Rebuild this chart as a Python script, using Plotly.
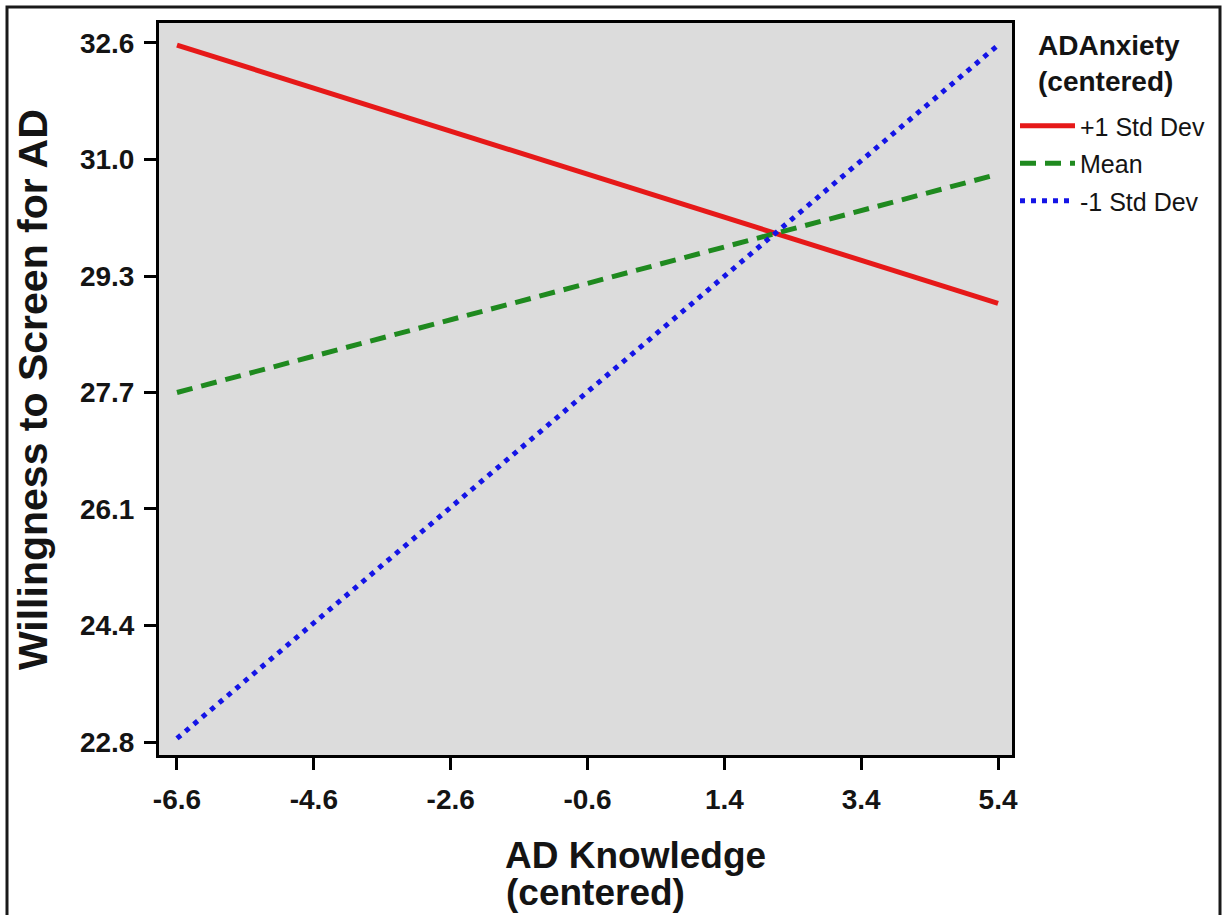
import plotly.graph_objects as go

# ---- data ----
ad_knowledge = [-6.6, 5.4]
plus_1sd = [32.57, 28.95]
mean_line = [27.70, 30.76]
minus_1sd = [22.85, 32.57]

series_names = ["+1 Std Dev", "Mean", "-1 Std Dev"]

x_tick_vals = [-6.6, -4.6, -2.6, -0.6, 1.4, 3.4, 5.4]
x_tick_text = ["-6.6", "-4.6", "-2.6", "-0.6", "1.4", "3.4", "5.4"]
y_tick_vals = [22.8, 24.433, 26.067, 27.7, 29.333, 30.967, 32.6]
y_tick_text = ["22.8", "24.4", "26.1", "27.7", "29.3", "31.0", "32.6"]

W, H = 1225, 915
L, R, T, B = 159, 1012, 23, 755
pw, ph = R - L, B - T

def px_x(p):
    return (p - L) / pw

def px_y(p):
    return 1 - (p - T) / ph

FONT = "Liberation Sans, Arial, sans-serif"
TXT = "#141414"

fig = go.Figure()
fig.add_trace(go.Scatter(x=ad_knowledge, y=plus_1sd, mode="lines", name=series_names[0],
                         legendgroup="a",
                         line=dict(color="#e61919", width=5, dash="solid")))
fig.add_trace(go.Scatter(x=ad_knowledge, y=mean_line, mode="lines", name=series_names[1],
                         legendgroup="b",
                         line=dict(color="#1f8a1f", width=5, dash="16px,9px")))
fig.add_trace(go.Scatter(x=ad_knowledge, y=minus_1sd, mode="lines", name=series_names[2],
                         legendgroup="c",
                         line=dict(color="#1414e6", width=5, dash="5px,6px")))

axis_common = dict(
    showgrid=False, zeroline=False, showline=True, linecolor="black", linewidth=3,
    mirror=True, ticks="outside", ticklen=12, tickwidth=3, tickcolor="black",
    tickfont=dict(family=FONT, size=28, color=TXT, weight="bold"),
)

fig.update_xaxes(range=[-6.863, 5.604], tickvals=x_tick_vals, ticktext=x_tick_text,
                 ticklabelstandoff=5, **axis_common)
fig.update_yaxes(range=[22.618, 32.88], tickvals=y_tick_vals, ticktext=y_tick_text,
                 ticklabelstandoff=4, **axis_common)

fig.update_layout(
    width=W, height=H,
    margin=dict(l=L, r=W - R, t=T, b=H - B, autoexpand=False),
    plot_bgcolor="#dcdcdc", paper_bgcolor="white",
    showlegend=True,
    legend=dict(x=px_x(1015), y=px_y(103), xanchor="left", yanchor="top",
                font=dict(family=FONT, size=25, color=TXT),
                itemwidth=55, tracegroupgap=2, traceorder="grouped",
                bgcolor="rgba(0,0,0,0)", borderwidth=0),
    annotations=[
        dict(text="AD Knowledge", x=px_x(635), y=px_y(855), xref="paper", yref="paper",
             xanchor="center", yanchor="middle", showarrow=False,
             font=dict(family=FONT, size=37, color=TXT, weight="bold")),
        dict(text="(centered)", x=px_x(595), y=px_y(892), xref="paper", yref="paper",
             xanchor="center", yanchor="middle", showarrow=False,
             font=dict(family=FONT, size=37, color=TXT, weight="bold")),
        dict(text="Willingness to Screen for AD", x=px_x(33), y=px_y(390), xref="paper", yref="paper",
             xanchor="center", yanchor="middle", showarrow=False, textangle=-90,
             font=dict(family=FONT, size=41, color=TXT, weight="bold")),
        dict(text="ADAnxiety<br>(centered)", x=px_x(1036), y=px_y(28), xref="paper", yref="paper",
             xanchor="left", yanchor="top", showarrow=False, align="left",
             font=dict(family=FONT, size=28, color=TXT, weight="bold")),
    ],
    shapes=[
        dict(type="rect", xref="paper", yref="paper",
             x0=px_x(7), x1=px_x(1220), y0=px_y(940), y1=px_y(7),
             line=dict(color="#1a1a1a", width=3), fillcolor="rgba(0,0,0,0)", layer="below"),
    ],
)

fig.write_html("out.html", config={"displayModeBar": False},
               post_script="document.body.style.margin='0';document.body.style.overflow='hidden';")
